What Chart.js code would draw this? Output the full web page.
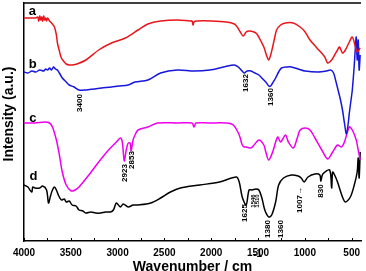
<!DOCTYPE html>
<html>
<head>
<meta charset="utf-8">
<script src="https://cdn.jsdelivr.net/npm/chart.js@4.4.1/dist/chart.umd.min.js"></script>
<style>
  html, body { margin: 0; padding: 0; background: #fff; }
  #wrap { width: 366px; height: 271px; position: relative; }
</style>
</head>
<body>
<div id="wrap"><canvas id="myChart"></canvas></div>
<script>
// spectra: [wavenumber (cm-1), intensity (a.u.)]
const specA = [
    [4000,223],[3937,223],[3874,223],[3853,224],[3843,220],[3832,225],[3822,221],[3811,224],
    [3801,220],[3790,225],[3779,221],[3769,223],[3759,220],[3748,223],[3727,220],[3706,218],
    [3675,214],[3654,206],[3643,198],[3622,190],[3601,183],[3570,179],[3549,177],[3517,176],
    [3486,176],[3433,177],[3339,181],[3202,191],[3066,198],[2918,203],[2782,211],[2677,217],
    [2541,220],[2362,221],[2226,220],[2205,220],[2194,216],[2184,219],[2152,220],[1995,220],
    [1837,219],[1753,217],[1722,214],[1690,209],[1659,205],[1627,209],[1596,210],[1543,209],
    [1512,207],[1470,200],[1438,194],[1407,185],[1386,181],[1365,186],[1344,194],[1323,203],
    [1302,211],[1259,216],[1207,218],[1123,218],[1050,214],[997,209],[945,201],[871,193],
    [787,184],[756,178],[714,181],[682,186],[651,191],[630,194],[598,188],[567,191],
    [525,199],[493,204],[462,195],[441,189],[409,193]
];
const specB = [
    [4000,169],[3958,168],[3916,170],[3874,169],[3832,171],[3790,170],[3769,172],[3748,171],
    [3727,173],[3706,171],[3685,174],[3664,172],[3643,171],[3622,168],[3591,163],[3549,159],
    [3517,156],[3465,154],[3412,151],[3339,151],[3255,152],[3171,153],[3066,154],[2992,155],
    [2887,156],[2814,159],[2677,161],[2541,168],[2362,171],[2184,170],[2016,171],[1869,174],
    [1753,176],[1711,174],[1680,171],[1648,168],[1617,170],[1575,170],[1533,168],[1491,166],
    [1449,162],[1417,159],[1386,155],[1365,155],[1344,158],[1312,163],[1280,169],[1249,173],
    [1186,174],[1144,174],[1071,172],[997,170],[861,169],[766,170],[724,171],[693,168],
    [672,161],[640,149],[619,141],[598,131],[577,118],[556,107],[535,119],[525,128],
    [504,143],[493,151],[472,176],[462,191],[451,204],[441,181],[430,201],[420,171],[409,186]
];
const specC = [
    [4000,118],[3884,118],[3779,119],[3727,118],[3696,114],[3654,101],[3622,86],[3591,69],
    [3549,56],[3496,50],[3454,51],[3412,54],[3307,66],[3202,79],[3097,91],[3013,99],
    [2971,103],[2950,99],[2929,80],[2908,91],[2887,98],[2866,98],[2856,90],[2835,101],
    [2814,106],[2782,111],[2677,114],[2572,118],[2362,118],[2205,118],[2184,114],[2163,118],
    [2016,118],[1837,118],[1764,116],[1701,106],[1669,96],[1648,94],[1627,94],[1575,93],
    [1543,96],[1491,101],[1438,96],[1417,89],[1386,81],[1344,89],[1291,104],[1259,99],
    [1207,106],[1176,99],[1123,93],[1081,103],[1050,111],[997,113],[945,111],[892,103],
    [819,91],[756,82],[703,89],[651,96],[609,94],[577,99],[525,114],[493,111],
    [451,101],[430,91],[409,81]
];
const specD = [
    [4000,56],[3958,54],[3937,51],[3916,49],[3906,54],[3884,53],[3832,53],[3801,55],
    [3759,51],[3738,38],[3717,45],[3696,51],[3675,54],[3654,51],[3633,46],[3601,41],
    [3570,42],[3549,39],[3517,40],[3486,36],[3444,35],[3412,31],[3370,30],[3339,28],
    [3286,29],[3234,28],[3181,28],[3129,29],[3076,29],[3045,31],[3013,38],[2971,34],
    [2940,37],[2887,34],[2835,36],[2782,36],[2646,38],[2541,43],[2436,49],[2330,53],
    [2121,56],[1911,59],[1732,64],[1701,59],[1669,44],[1627,36],[1596,51],[1564,51],
    [1522,52],[1491,51],[1459,43],[1428,31],[1386,24],[1354,26],[1312,39],[1280,56],
    [1228,63],[1144,66],[1071,65],[1039,63],[1008,59],[966,64],[892,67],[840,66],
    [829,60],[808,67],[735,71],[714,53],[703,69],[682,66],[651,59],[598,44],
    [567,39],[514,44],[472,56],[441,69],[430,83],[420,63],[409,89]
];

const seriesNames = ['a', 'b', 'c', 'd'];
const seriesColors = ['#e8161c', '#1616dc', '#ee00ee', '#000000'];
const xTicks = [4000, 3500, 3000, 2500, 2000, 1500, 1000, 500];
const minorTicks = [3750, 3250, 2750, 2250, 1750, 1250, 750];

// peak labels: [text, wavenumber, intensity, font size]
const peakLabels = [
    ['3400', 3400, 138, 8],
    ['1632', 1627, 158, 8],
    ['1360', 1362, 144, 8],
    ['2923', 2918, 68, 8],
    ['2853', 2846, 81, 8],
    ['1625', 1645, 28, 8],
    ['1546', 1548, 40, 6],
    ['1510', 1512, 40, 6],
    ['1380', 1396, 12, 8],
    ['1360', 1259, 12, 8],
    ['1007\u2192', 1050, 41, 8],
    ['830', 829, 50, 8]
];
// curve letters: [letter, wavenumber, intensity at baseline]
const curveLetters = [['a', 3910, 226], ['b', 3906, 173], ['c', 3906, 119], ['d', 3900, 61]];

const FONT = '"Liberation Sans", Arial, sans-serif';

function toXY(arr) {
    return arr.map(function(p) { return {x: p[0], y: p[1]}; });
}

const extras = {
    id: 'extras',
    afterDraw: function(chart) {
        const ctx = chart.ctx;
        const ca = chart.chartArea;
        const xs = chart.scales.x, ys = chart.scales.y;
        ctx.save();
        ctx.strokeStyle = '#000';
        ctx.lineWidth = 1.5;
        // top frame line
        ctx.beginPath();
        ctx.moveTo(ca.left, ca.top);
        ctx.lineTo(ca.right, ca.top);
        ctx.stroke();
        // inward ticks
        ctx.lineWidth = 1;
        xTicks.concat(minorTicks).forEach(function(v) {
            const px = Math.round(xs.getPixelForValue(v)) + 0.5;
            ctx.beginPath();
            ctx.moveTo(px, ca.bottom);
            ctx.lineTo(px, ca.bottom - 3);
            ctx.stroke();
        });
        ctx.fillStyle = '#000';
        // curve letters
        ctx.font = 'bold 13px ' + FONT;
        ctx.textAlign = 'center';
        ctx.textBaseline = 'alphabetic';
        curveLetters.forEach(function(l) {
            ctx.fillText(l[0], xs.getPixelForValue(l[1]), ys.getPixelForValue(l[2]));
        });
        // peak labels, rotated
        ctx.textBaseline = 'middle';
        peakLabels.forEach(function(l) {
            ctx.save();
            ctx.translate(xs.getPixelForValue(l[1]), ys.getPixelForValue(l[2]));
            ctx.rotate(-Math.PI / 2);
            ctx.font = 'bold ' + l[3] + 'px ' + FONT;
            ctx.fillText(l[0], 0, 0);
            ctx.restore();
        });
        // axis titles
        const cx = (ca.left + ca.right) / 2;
        ctx.font = 'bold 14px ' + FONT;
        ctx.textAlign = 'center';
        ctx.textBaseline = 'alphabetic';
        const t = 'Wavenumber / cm';
        ctx.fillText(t, cx, 271);
        const tw = ctx.measureText(t).width;
        ctx.font = 'bold 10px ' + FONT;
        ctx.textAlign = 'left';
        ctx.fillText('-1', cx + tw / 2 + 1, 257);

        ctx.save();
        ctx.translate(13, (ca.top + ca.bottom) / 2 - 8);
        ctx.rotate(-Math.PI / 2);
        ctx.font = 'bold 14px ' + FONT;
        ctx.textAlign = 'center';
        ctx.fillText('Intensity (a.u.)', 0, 0);
        ctx.restore();
        ctx.restore();
    }
};

const specs = [specA, specB, specC, specD];

const myChart = new Chart(document.getElementById('myChart'), {
    type: 'line',
    data: {
        datasets: specs.map(function(s, i) {
            return {
                label: seriesNames[i],
                data: toXY(s),
                borderColor: seriesColors[i],
                backgroundColor: seriesColors[i],
                borderWidth: 1.5,
                pointRadius: 0,
                tension: 0.3,
                fill: false
            };
        })
    },
    options: {
        responsive: true,
        maintainAspectRatio: false,
        animation: false,
        layout: { padding: { left: 0, right: 0, top: 3, bottom: 0 } },
        plugins: {
            legend: { display: false },
            tooltip: { enabled: false }
        },
        scales: {
            x: {
                type: 'linear',
                reverse: true,
                min: 400,
                max: 4000,
                afterBuildTicks: function(s) { s.ticks = xTicks.map(function(v) { return {value: v}; }); },
                afterFit: function(s) { s.height = 30; },
                grid: { display: false, drawTicks: false },
                border: { display: true, color: '#000', width: 1.5 },
                ticks: {
                    color: '#000',
                    padding: 6,
                    maxRotation: 0,
                    autoSkip: false,
                    font: { family: FONT, size: 10, weight: 'bold' },
                    callback: function(v) { return String(v); }
                }
            },
            y: {
                min: 0,
                max: 238,
                afterFit: function(s) { s.width = 24; },
                grid: { display: false, drawTicks: false },
                border: { display: true, color: '#000', width: 1.5 },
                ticks: { display: false }
            }
        }
    },
    plugins: [extras]
});
</script>
</body>
</html>
